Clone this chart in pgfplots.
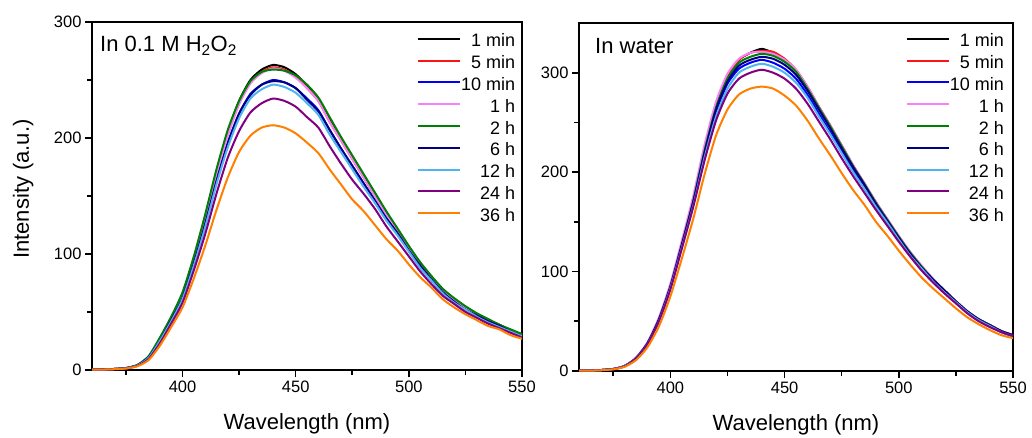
\documentclass[border=0pt]{standalone}
\usepackage{fontspec}
\setmainfont{Liberation Sans}
\usepackage{pgfplots}
\usepackage{pgfplotstable}
\pgfplotsset{compat=1.18}
\definecolor{cred}{RGB}{250,20,20}
\definecolor{cblue}{RGB}{0,0,250}
\definecolor{cpink}{RGB}{250,128,250}
\definecolor{cgreen}{RGB}{0,128,0}
\definecolor{cnavy}{RGB}{0,0,128}
\definecolor{clblue}{RGB}{80,180,240}
\definecolor{cpurple}{RGB}{128,0,128}
\definecolor{corange}{RGB}{255,128,0}

% columns: 1 min, 5 min, 10 min, 1 h, 2 h, 6 h, 12 h, 24 h, 36 h
\pgfplotstableread{
x a b c d e f g h i
360 0.3 0.3 0.3 0.3 0.3 0.3 0.3 0.3 0.3
365 0.5 0.5 0.5 0.5 0.5 0.5 0.5 0.5 0.4
370 0.9 0.9 0.9 0.9 0.9 0.9 0.9 0.8 0.7
375 1.6 1.6 1.6 1.6 1.7 1.6 1.5 1.4 1.3
380 4 4 4 4 4.3 4 3.8 3.5 3.2
385 11 11 11 11 12 11 10.5 9.5 8.5
390 26 26 25 26 28 25 25 23 21
395 44 44 43 44 46 43 42 40 37
400 64 64 62 64 67 62 61 58 54
405 95 94 92 94 98 92 90 86 79
410 130 129 126 129 134 126 123 117 107
415 170 168 164 168 173 163 160 152 138
420 205 203 196 202 207 195 192 183 166
425 232 230 221 229 232 221 217 206 188
430 250 248 238 247 249 237 234 222 202
435 259 257 246 256 257 246 242 230 209
440 263 261 250 260 259 249 246 234 211
445 261 259 248 258 258 248 244 232 209
450 255 253 243 252 254 243 239 227 204
455 245 243 234 243 246 233 230 218 196
460 234 232 224 232 235 223 220 209 187
465 216 214 207 214 218 207 203 193 173
470 199 198 191 198 201 191 188 178 160
475 183 182 176 182 185 176 173 164 147
480 167 166 161 166 169 161 158 152 137
485 151 150 146 150 153 146 144 139 125
490 135 134 131 134 137 131 129 124 113
495 121 120 118 120 122 118 116 111 103
500 106 105 103 105 107 103 102 98 91
505 92 92 90 91 93 90 88 85 80
510 80 80 78 79 81 78 77 74 71
515 69 69 67 69 70 67 66 64 61
520 61 61 59 60 62 59 58 57 54
525 54 54 52 53 55 52 52 50 48
530 48 48 47 47 49 47 46 45 43
535 43 43 42 42 44 42 41 40 38
540 39 39 38 38 39 38 37 36 35
545 34 34 33 34 35 33 33 32 30
550 30 30 29 30 31 29 29 28 27
}\leftdata

\pgfplotstableread{
x a b c d e f g h i
360 0.3 0.3 0.3 0.3 0.3 0.3 0.3 0.3 0.3
365 0.5 0.5 0.5 0.5 0.5 0.5 0.5 0.5 0.4
370 1.0 1.0 1.0 1.0 1.0 1.0 1.0 1.0 0.8
375 2.0 2.0 2.0 2.1 2.0 2.0 2.0 1.9 1.7
380 5 5 5 5.3 5 5 5 4.8 4.2
385 13 13 13 13.5 13 13 12.5 12.5 11
390 28 28 28 29 28 28 27 27 24
395 52 52 51 54 52 52 50 50 45
400 85 85 84 88 85 85 83 82 75
405 127 127 126 131 127 127 124 123 113
410 172 172 169 176 171 170 166 165 153
415 224 224 219 228 222 220 215 212 198
420 268 268 261 271 265 263 256 252 237
425 297 297 289 299 294 291 284 279 263
430 313 313 304 314 310 307 300 294 278
435 320 320 310 320 316 313 306 300 284
440 324 322 313 321 319 316 309 303 286
445 320 321 310 319 317 314 306 300 284
450 313 314 304 313 311 308 300 294 277
455 302 303 294 303 301 298 290 284 267
460 285 286 278 286 284 282 275 269 252
465 265 266 259 266 265 263 256 251 234
470 246 247 240 247 246 244 238 233 217
475 226 227 221 227 226 224 219 214 199
480 206 207 202 207 206 205 200 196 182
485 188 188 184 189 188 187 183 179 167
490 169 170 166 170 169 168 165 162 150
495 152 152 150 153 152 151 149 146 136
500 135 135 133 136 135 134 132 130 121
505 119 119 117 120 119 118 116 115 107
510 105 105 103 106 105 104 103 101 94
515 92 92 91 93 92 92 90 89 83
520 81 81 80 81 81 81 79 78 73
525 70 70 69 70 70 70 69 68 63
530 60 60 59 60 60 60 59 58 54
535 52 52 51 52 52 52 51 50 47
540 46 46 45 46 46 46 45 44 41
545 40 40 39 40 40 40 39 39 36
550 36 36 35 36 36 36 35 35 33
}\rightdata

\pgfplotsset{
  myaxis/.style={
    scale only axis, height=348pt,
    xmin=360, xmax=550, ymin=0,
    xtick={400,450,500,550}, minor xtick={375,425,475,525},
    ytick={0,100,200,300}, minor ytick={50,150,250},
    axis line style={line width=1.9pt},
    tick align=outside, tick pos=left,
    major tick length=7pt, minor tick length=5pt,
    every tick/.style={line width=1.6pt, black},
    tick label style={font=\fontsize{16.5}{18}\selectfont},
    /pgf/number format/assume math mode=true,
    xlabel={Wavelength (nm)},
    xlabel style={font=\fontsize{22}{26}\selectfont, at={(axis description cs:0.5,-0.172)}, anchor=base},
    legend cell align=right,
    legend style={draw=none, fill=none, font=\fontsize{18}{20}\selectfont,
      inner sep=0pt, outer sep=0pt, row sep=9.8pt,
      nodes={inner sep=0pt, text height=12pt, text depth=0pt},
      /tikz/every even column/.append style={column sep=4pt}},
    legend image code/.code={\draw[#1, line width=2pt] (0pt,2pt) -- (42pt,2pt);},
    every axis plot/.append style={line width=2pt, no marks, smooth, tension=0.4},
  }
}

\begin{document}
\begin{tikzpicture}
\begin{axis}[myaxis, width=430pt, at={(92pt,67pt)}, anchor=south west,
  ymax=300,
  ylabel={Intensity (a.u.)},
  ylabel style={font=\fontsize{22}{26}\selectfont, at={(axis description cs:-0.16,0.52)}, anchor=center},
  legend style={at={(rel axis cs:0.984,0.963)}, anchor=north east}]
\addplot[black]   table[x=x,y=a]{\leftdata}; \addlegendentry{1 min}
\addplot[cred]    table[x=x,y=b]{\leftdata}; \addlegendentry{5 min}
\addplot[cblue]   table[x=x,y=c]{\leftdata}; \addlegendentry{10 min}
\addplot[cpink]   table[x=x,y=d]{\leftdata}; \addlegendentry{1 h}
\addplot[cgreen]  table[x=x,y=e]{\leftdata}; \addlegendentry{2 h}
\addplot[cnavy]   table[x=x,y=f]{\leftdata}; \addlegendentry{6 h}
\addplot[clblue]  table[x=x,y=g]{\leftdata}; \addlegendentry{12 h}
\addplot[cpurple] table[x=x,y=h]{\leftdata}; \addlegendentry{24 h}
\addplot[corange] table[x=x,y=i]{\leftdata}; \addlegendentry{36 h}
\node[anchor=base west, font=\fontsize{22}{26}\selectfont, inner sep=0pt] at (rel axis cs:0.0186,0.914) {In 0.1 M H\textsubscript{2}O\textsubscript{2}};
\end{axis}
\begin{axis}[myaxis, width=434pt, at={(579pt,66pt)}, anchor=south west,
  ymax=350,
  legend style={at={(rel axis cs:0.979,0.966)}, anchor=north east}]
\addplot[black]   table[x=x,y=a]{\rightdata}; \addlegendentry{1 min}
\addplot[cred]    table[x=x,y=b]{\rightdata}; \addlegendentry{5 min}
\addplot[cblue]   table[x=x,y=c]{\rightdata}; \addlegendentry{10 min}
\addplot[cpink]   table[x=x,y=d]{\rightdata}; \addlegendentry{1 h}
\addplot[cgreen]  table[x=x,y=e]{\rightdata}; \addlegendentry{2 h}
\addplot[cnavy]   table[x=x,y=f]{\rightdata}; \addlegendentry{6 h}
\addplot[clblue]  table[x=x,y=g]{\rightdata}; \addlegendentry{12 h}
\addplot[cpurple] table[x=x,y=h]{\rightdata}; \addlegendentry{24 h}
\addplot[corange] table[x=x,y=i]{\rightdata}; \addlegendentry{36 h}
\node[anchor=base west, font=\fontsize{22}{26}\selectfont, inner sep=0pt] at (rel axis cs:0.0369,0.911) {In water};
\end{axis}
\pgfresetboundingbox
\path[use as bounding box] (0,0) rectangle (1032pt,437pt);
\end{tikzpicture}
\end{document}
